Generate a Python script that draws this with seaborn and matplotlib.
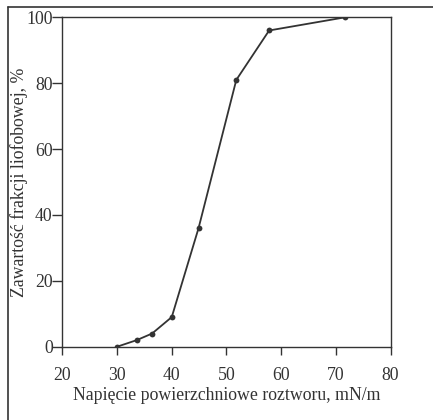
import matplotlib
matplotlib.use("Agg")
import matplotlib.pyplot as plt
from matplotlib.lines import Line2D
import seaborn as sns
import pandas as pd

# Surface tension of the solution (mN/m) vs. lyophobic fraction content (%)
surface_tension = [30.0, 33.6, 36.4, 40.0, 44.9, 51.8, 57.8, 71.7]
lyophobic_share = [0.0, 2.0, 4.0, 9.0, 36.0, 81.0, 96.0, 100.0]
x_ticks = [20, 30, 40, 50, 60, 70, 80]
y_ticks = [0, 20, 40, 60, 80, 100]

df = pd.DataFrame({"x": surface_tension, "y": lyophobic_share})

sns.set_theme(style="ticks")
plt.rcParams["font.family"] = ["Liberation Serif", "DejaVu Serif"]

ink = "#333333"
fig = plt.figure(figsize=(4.33, 4.20), dpi=100)
ax = fig.add_axes([0.144, 0.1745, 0.758, 0.7843])

sns.lineplot(data=df, x="x", y="y", ax=ax, color=ink, linewidth=1.3,
             marker="o", markersize=4.2, markeredgewidth=0, sort=False)

ax.set_xlim(20, 80)
ax.set_ylim(0, 100)
ax.set_xticks(x_ticks)
ax.set_yticks(y_ticks)
ax.set_xticklabels([str(t) for t in x_ticks])
ax.set_yticklabels([str(t) for t in y_ticks])

for s in ax.spines.values():
    s.set_color(ink)
    s.set_linewidth(1.0)

ax.tick_params(axis="x", direction="out", length=6, width=1.0, color=ink,
               labelsize=12.8, labelcolor=ink, pad=8.5)
ax.tick_params(axis="y", direction="out", length=7, width=1.0, color=ink,
               labelsize=12.8, labelcolor=ink, pad=0)

ax.set_xlabel("Napięcie powierzchniowe roztworu, mN/m", fontsize=12.8,
              color=ink)
ax.set_ylabel("Zawartość frakcji liofobowej, %", fontsize=12.8,
              color=ink)
ax.xaxis.set_label_coords(0.5, -0.123)
ax.yaxis.set_label_coords(-0.106, 0.5)

# Outer frame of the figure panel
fig.add_artist(Line2D([8 / 433, 8 / 433], [0, 1 - 7 / 420],
                      transform=fig.transFigure, color=ink, linewidth=1.2))
fig.add_artist(Line2D([8 / 433, 1], [1 - 7 / 420, 1 - 7 / 420],
                      transform=fig.transFigure, color=ink, linewidth=1.2))

fig.savefig("out.png", dpi=100, facecolor="white")
